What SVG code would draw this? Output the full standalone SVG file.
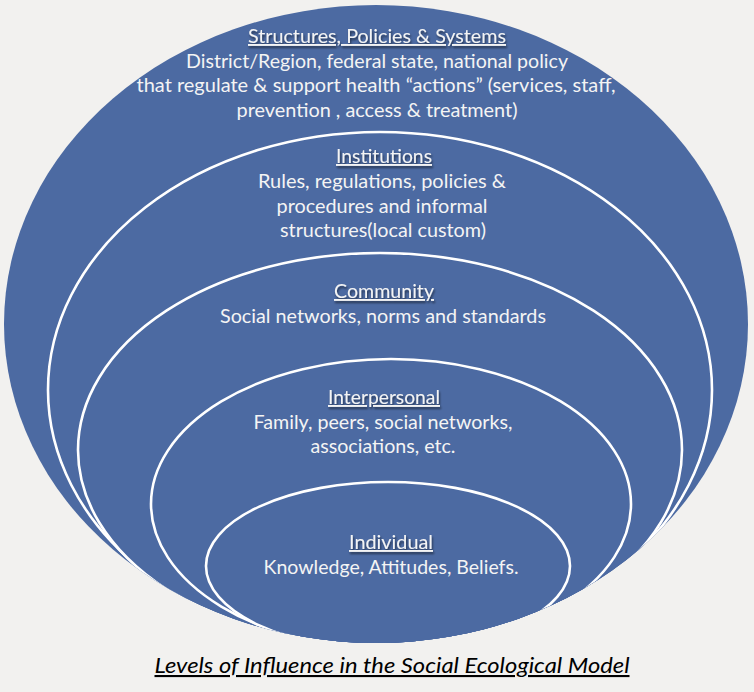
<svg xmlns="http://www.w3.org/2000/svg" width="754" height="692" viewBox="0 0 754 692">
<style>
.bg{fill:#f2f1ef}
.blob{fill:#4c6aa2}
.ring{fill:#4c6aa2;stroke:#ffffff;stroke-width:2.6}
.h{font-family:Lato,"Liberation Sans",sans-serif;font-size:19px;fill:#f4f4f4;text-anchor:middle;text-decoration:underline;filter:url(#sh)}
.t{font-family:Lato,"Liberation Sans",sans-serif;font-size:19px;fill:#f4f4f4;text-anchor:middle}
.cap{font-family:Lato,"Liberation Sans",sans-serif;font-size:21px;font-style:italic;fill:#000;text-anchor:middle;text-decoration:underline}
</style>
<defs>
<clipPath id="outerClip"><ellipse cx="376" cy="324" rx="372" ry="319"/></clipPath>
<filter id="sh" x="-10%" y="-30%" width="120%" height="170%">
<feDropShadow dx="1" dy="2" stdDeviation="1.2" flood-color="#000" flood-opacity="0.55"/>
</filter>
</defs>
<rect class="bg" x="0" y="0" width="754" height="692"/>
<g id="structures">
<ellipse class="blob" cx="376" cy="324" rx="372" ry="319"/>
<text class="h" x="377" y="43" textLength="258" lengthAdjust="spacingAndGlyphs">Structures, Policies &amp; Systems</text>
<text class="t" x="377" y="68" textLength="382" lengthAdjust="spacingAndGlyphs">District/Region, federal  state, national policy</text>
<text class="t" x="376" y="92" textLength="479" lengthAdjust="spacingAndGlyphs">that regulate &amp; support health “actions” (services, staff,</text>
<text class="t" x="377" y="117" textLength="281" lengthAdjust="spacingAndGlyphs">prevention , access &amp; treatment)</text>
</g>
<g clip-path="url(#outerClip)">
<g id="institutions">
<ellipse class="ring" cx="380" cy="390" rx="332" ry="258"/>
<text class="h" x="384" y="163" textLength="96" lengthAdjust="spacingAndGlyphs">Institutions</text>
<text class="t" x="382" y="188" textLength="248" lengthAdjust="spacingAndGlyphs">Rules, regulations, policies &amp;</text>
<text class="t" x="382" y="213" textLength="211" lengthAdjust="spacingAndGlyphs">procedures and informal</text>
<text class="t" x="383" y="237" textLength="206" lengthAdjust="spacingAndGlyphs">structures(local custom)</text>
</g>
<g id="community">
<ellipse class="ring" cx="380" cy="450" rx="302" ry="197"/>
<text class="h" x="384" y="298" textLength="100" lengthAdjust="spacingAndGlyphs">Community</text>
<text class="t" x="383" y="323" textLength="326" lengthAdjust="spacingAndGlyphs">Social networks, norms and standards</text>
</g>
<g id="interpersonal">
<ellipse class="ring" cx="391" cy="504" rx="240" ry="145"/>
<text class="h" x="384" y="404" textLength="112" lengthAdjust="spacingAndGlyphs">Interpersonal</text>
<text class="t" x="383" y="429" textLength="259" lengthAdjust="spacingAndGlyphs">Family, peers,  social networks,</text>
<text class="t" x="383" y="453" textLength="145" lengthAdjust="spacingAndGlyphs">associations, etc.</text>
</g>
<g id="individual">
<ellipse class="ring" cx="388" cy="566" rx="182" ry="84"/>
<text class="h" x="391" y="549" textLength="84" lengthAdjust="spacingAndGlyphs">Individual</text>
<text class="t" x="391" y="574" textLength="255" lengthAdjust="spacingAndGlyphs">Knowledge, Attitudes,  Beliefs.</text>
</g>
</g>
<g id="caption">
<text class="cap" x="392" y="673" textLength="475" lengthAdjust="spacingAndGlyphs">Levels of Influence in the  Social Ecological Model</text>
</g>
</svg>
